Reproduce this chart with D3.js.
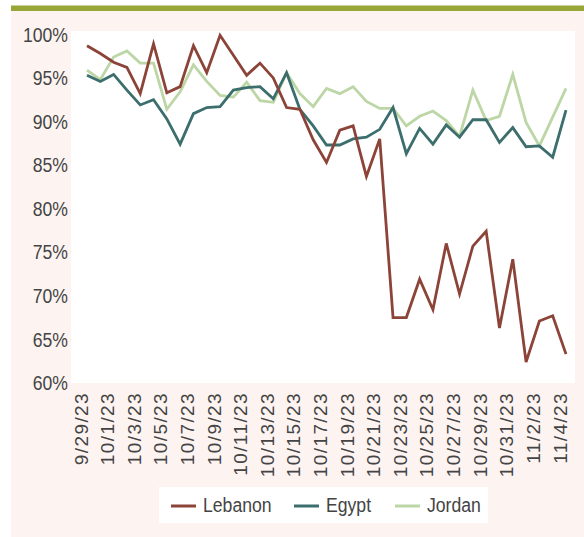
<!DOCTYPE html>
<html><head><meta charset="utf-8">
<script src="https://cdn.jsdelivr.net/npm/d3@7"></script>
<style>
html,body{margin:0;padding:0;background:#fff;}
svg{display:block;}
</style></head>
<body>
<svg id="chart" width="584" height="537"></svg>
<script>
const dates = ["9/29/23","9/30/23","10/1/23","10/2/23","10/3/23","10/4/23","10/5/23","10/6/23","10/7/23","10/8/23","10/9/23","10/10/23","10/11/23","10/12/23","10/13/23","10/14/23","10/15/23","10/16/23","10/17/23","10/18/23","10/19/23","10/20/23","10/21/23","10/22/23","10/23/23","10/24/23","10/25/23","10/26/23","10/27/23","10/28/23","10/29/23","10/30/23","10/31/23","11/1/23","11/2/23","11/3/23","11/4/23"];
const lebanon = [98.6,97.7,96.7,96.1,93.1,98.8,93.2,93.9,98.6,95.5,99.8,97.5,95.2,96.6,94.9,91.5,91.3,87.8,85.2,88.9,89.4,83.6,87.9,67.4,67.4,71.8,68.3,75.9,70.1,75.6,77.3,66.2,74.1,62.3,67.0,67.6,63.2];
const egypt = [95.2,94.5,95.3,93.5,91.8,92.4,90.2,87.3,90.8,91.5,91.6,93.5,93.8,93.9,92.5,95.5,91.3,89.4,87.2,87.2,87.9,88.1,89.0,91.5,86.2,89.1,87.3,89.5,88.1,90.1,90.1,87.5,89.2,87.0,87.1,85.8,91.2];
const jordan = [95.8,94.7,97.3,98.0,96.6,96.6,91.3,93.3,96.4,94.5,92.9,92.7,94.4,92.3,92.1,95.5,93.1,91.6,93.7,93.1,93.9,92.2,91.4,91.4,89.4,90.5,91.1,90.0,88.2,93.5,90.0,90.5,95.3,89.8,87.1,90.4,93.7];
const yTicks = [60,65,70,75,80,85,90,95,100];
const seriesNames = ["Lebanon","Egypt","Jordan"];
const colors = ["#8c4338","#3b6e6c","#bcd6a6"];

const svg = d3.select("#chart");
// frame
svg.append("rect").attr("x",11).attr("y",11).attr("width",573).attr("height",526).attr("fill","#fdf4f2");
svg.append("rect").attr("x",11).attr("y",5.5).attr("width",573).attr("height",5.5).attr("fill","#98a638");
svg.append("rect").attr("x",71).attr("y",31).attr("width",504).attr("height",352).attr("fill","#ffffff");

const x = d3.scalePoint().domain(dates).range([87,566]);
const y = d3.scaleLinear().domain([60,100]).range([382,33.5]);

const font = "'Liberation Sans',Arial,sans-serif";
const squeeze = 0.84;

// y axis
const yAxis = svg.append("g").attr("transform","translate(68,0)")
  .call(d3.axisLeft(y).tickValues(yTicks).tickSize(0).tickPadding(0).tickFormat(d=>d+"%"));
yAxis.select(".domain").remove();
yAxis.selectAll("text").attr("font-family",font).attr("font-size",21).attr("fill","#444")
  .attr("dy","0.36em").attr("transform",`scale(${squeeze},1)`);

// x axis
const xAxis = svg.append("g").attr("transform","translate(0,392)")
  .call(d3.axisBottom(x).tickValues(dates.filter((d,i)=>i%2===0)).tickSize(0).tickPadding(0));
xAxis.select(".domain").remove();
xAxis.selectAll("text")
  .attr("font-family",font).attr("font-size",19).attr("fill","#444")
  .attr("letter-spacing","1.4px")
  .attr("text-anchor","end").attr("transform","rotate(-90)").attr("x",0).attr("y",0).attr("dy","0");

// lines
const all = [lebanon, egypt, jordan];
const line = d3.line().x((d,i)=>x(dates[i])).y(d=>y(d));
[jordan, egypt, lebanon].forEach(s=>{
  const idx = all.indexOf(s);
  svg.append("path").datum(s).attr("d",line).attr("fill","none")
    .attr("stroke",colors[idx]).attr("stroke-width",2.8).attr("stroke-linejoin","miter");
});

// legend
svg.append("rect").attr("x",159).attr("y",487).attr("width",329).attr("height",36).attr("fill","#ffffff");
const legX = [171,294,395];
seriesNames.forEach((n,i)=>{
  svg.append("line").attr("x1",legX[i]).attr("x2",legX[i]+25).attr("y1",506).attr("y2",506)
    .attr("stroke",colors[i]).attr("stroke-width",3);
  svg.append("g").attr("transform",`translate(${legX[i]+32},512) scale(${squeeze},1)`)
    .append("text").attr("x",0).attr("y",0).attr("font-family",font).attr("font-size",21)
    .attr("fill","#444").text(n);
});
</script>
</body></html>
